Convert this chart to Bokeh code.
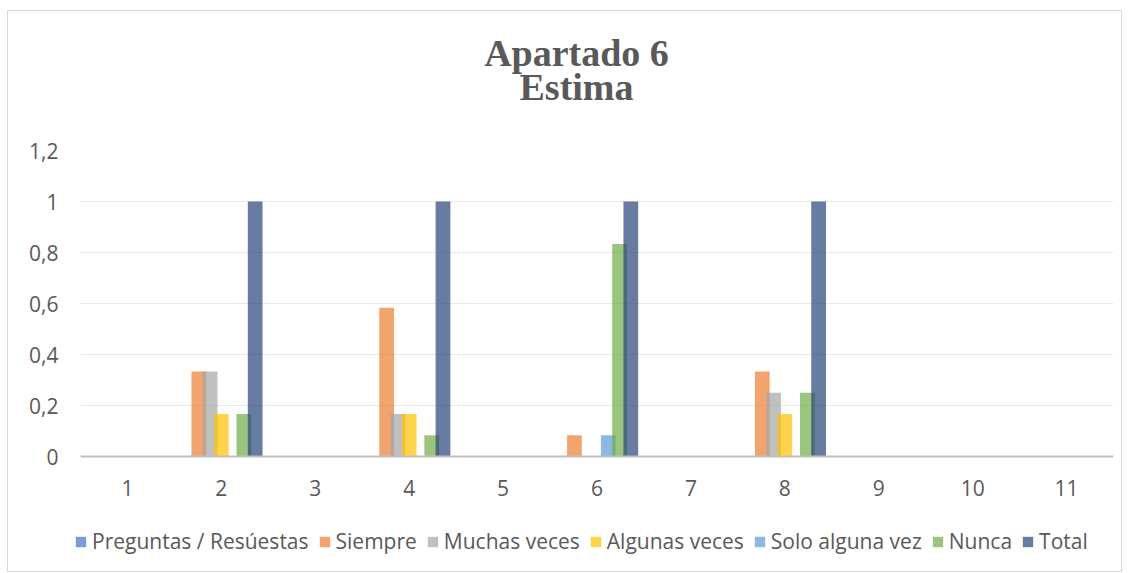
from bokeh.plotting import figure
from bokeh.layouts import column
from bokeh.models import FixedTicker, Legend, LegendItem, Label, ColumnDataSource
from bokeh.embed import file_html
from bokeh.resources import INLINE

categories = [1, 2, 3, 4, 5, 6, 7, 8, 9, 10, 11]
series_names = ["Preguntas / Resúestas", "Siempre", "Muchas veces", "Algunas veces",
                "Solo alguna vez", "Nunca", "Total"]
preguntas = [0, 0, 0, 0, 0, 0, 0, 0, 0, 0, 0]
siempre = [0, 0.333, 0, 0.583, 0, 0.083, 0, 0.333, 0, 0, 0]
muchas = [0, 0.333, 0, 0.167, 0, 0, 0, 0.25, 0, 0, 0]
algunas = [0, 0.167, 0, 0.167, 0, 0, 0, 0.167, 0, 0, 0]
solo = [0, 0, 0, 0, 0, 0.083, 0, 0, 0, 0, 0]
nunca = [0, 0.167, 0, 0.083, 0, 0.833, 0, 0.25, 0, 0, 0]
total = [0, 1, 0, 1, 0, 1, 0, 1, 0, 0, 0]
y_ticks = [0, 0.2, 0.4, 0.6, 0.8, 1.0, 1.2]
y_tick_labels = ["0", "0,2", "0,4", "0,6", "0,8", "1", "1,2"]
title_lines = ["Apartado 6", "Estima"]

series_values = [preguntas, siempre, muchas, algunas, solo, nunca, total]
colors = ["#4472C4", "#ED7D31", "#A5A5A5", "#FFC000", "#5B9BD5", "#70AD47", "#264478"]

FONT = "Open Sans"
TXT = "#595959"
W = 1113
FW = 1033
LB = 72
RB = 8


def strip(h, fw, lb, rb):
    f = figure(frame_width=fw, frame_height=h, output_backend="svg", toolbar_location=None,
               x_range=(0, fw), y_range=(0, h),
               x_axis_location=None, y_axis_location=None,
               min_border_left=lb, min_border_right=rb, min_border_top=0, min_border_bottom=0)
    f.grid.visible = False
    f.outline_line_color = None
    return f


# ---- title strip (same side borders as the chart)
tf = strip(120, FW, LB, RB)
for txt, base in zip(title_lines, [79, 45]):
    tf.add_layout(Label(x=496, y=base, text=txt, text_align="center",
                        text_baseline="alphabetic", text_font="Liberation Serif",
                        text_font_style="bold", text_font_size="38px", text_color=TXT))

# ---- main chart
p = figure(frame_width=FW, frame_height=306, output_backend="svg", toolbar_location=None,
           x_range=(0.5, 11.5), y_range=(0, 1.2),
           min_border_left=LB, min_border_right=RB, min_border_top=19, min_border_bottom=60)
p.outline_line_color = None
p.background_fill_color = "white"
p.border_fill_color = "white"

step = 0.12
width = 0.157
for i, (name, vals, col) in enumerate(zip(series_names, series_values, colors)):
    xs = [c + (i - 3) * step for c in categories]
    src = ColumnDataSource(dict(x=xs, top=vals))
    p.vbar(x="x", top="top", bottom=0, width=width, source=src,
           fill_color=col, fill_alpha=0.7, line_color=None)

p.xaxis.ticker = FixedTicker(ticks=categories)
p.xaxis.major_tick_line_color = None
p.xaxis.minor_tick_line_color = None
p.xaxis.axis_line_color = "#BFBFBF"
p.xaxis.axis_line_width = 2
p.xaxis.major_label_text_font = FONT
p.xaxis.major_label_text_font_size = "21px"
p.xaxis.major_label_text_color = TXT
p.xaxis.major_label_standoff = 17

p.yaxis.ticker = FixedTicker(ticks=y_ticks)
p.yaxis.major_label_overrides = {t: l for t, l in zip(y_ticks, y_tick_labels)}
p.yaxis.major_tick_line_color = None
p.yaxis.minor_tick_line_color = None
p.yaxis.axis_line_color = None
p.yaxis.major_label_text_font = FONT
p.yaxis.major_label_text_font_size = "21px"
p.yaxis.major_label_text_color = TXT
p.yaxis.major_label_standoff = 16

p.xgrid.grid_line_color = None
p.ygrid.grid_line_color = "#E8E8E8"
p.ygrid.grid_line_width = 1

# ---- legend strip
lg = strip(55, W, 0, 0)
items = []
for name, col in zip(series_names, colors):
    src = ColumnDataSource(dict(x=[-5000], top=[-5000]))
    r = lg.vbar(x="x", top="top", bottom=-5001, width=1, source=src,
                fill_color=col, fill_alpha=0.7, line_color=None)
    items.append(LegendItem(label=name, renderers=[r]))
legend = Legend(items=items, orientation="horizontal", location=(66, 16),
                label_text_font=FONT, label_text_font_size="21px", label_text_color=TXT,
                glyph_width=13, glyph_height=13, label_standoff=5, spacing=9,
                border_line_color=None, background_fill_alpha=0, margin=0, padding=0)
lg.add_layout(legend, "center")

layout = column(tf, p, lg, spacing=0, margin=(10, 0, 0, 7),
                styles={"border": "1px solid #D9D9D9"})

open("out.html", "w").write(file_html(layout, INLINE))
